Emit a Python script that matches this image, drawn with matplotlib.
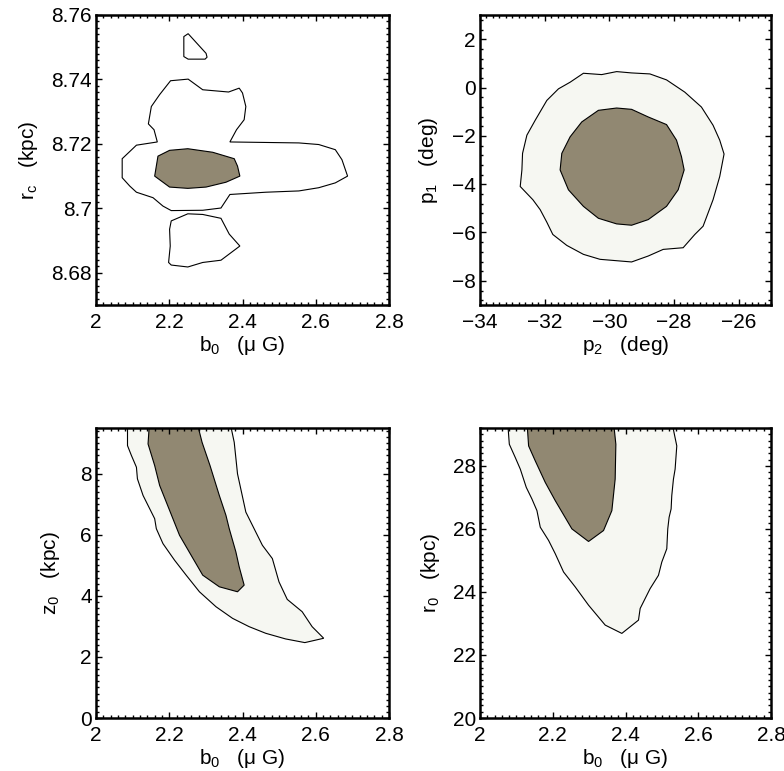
import matplotlib
matplotlib.use('Agg')
import matplotlib.pyplot as plt
from matplotlib.ticker import MultipleLocator

plt.rcParams['font.family'] = ['Liberation Sans', 'DejaVu Sans']
plt.rcParams['mathtext.fontset'] = 'custom'
plt.rcParams['mathtext.rm'] = 'Liberation Sans'
plt.rcParams['mathtext.it'] = 'Liberation Sans'

DARK = '#918872'
LIGHT = '#f6f7f2'

# ---- panel 1: b0 vs rc ----
rc_outer_b = [2.2516, 2.2914, 2.3620, 2.3910, 2.4000, 2.4091, 2.4045, 2.3837, 2.3656,
              2.5539, 2.6082, 2.6534, 2.6715, 2.6869, 2.6534, 2.6082, 2.5539, 2.4634,
              2.3656, 2.3412, 2.2914, 2.2054, 2.1828, 2.1557, 2.1104, 2.0923, 2.0715,
              2.0715, 2.1104, 2.1674, 2.1584, 2.1430, 2.1511, 2.1738, 2.2036]
rc_outer_r = [8.7401, 8.7368, 8.7361, 8.7373, 8.7358, 8.7316, 8.7275, 8.7244, 8.7206,
              8.7203, 8.7198, 8.7182, 8.7151, 8.7100, 8.7079, 8.7064, 8.7054, 8.7050,
              8.7043, 8.7001, 8.6994, 8.6993, 8.7007, 8.7033, 8.7050, 8.7069, 8.7095,
              8.7154, 8.7196, 8.7206, 8.7244, 8.7262, 8.7316, 8.7353, 8.7396]
rc_top_b = [2.2398, 2.2516, 2.3005, 2.3032, 2.2977, 2.2516, 2.2398]
rc_top_r = [8.7533, 8.7542, 8.7481, 8.7469, 8.7463, 8.7463, 8.7471]
rc_low_b = [2.2054, 2.2507, 2.2914, 2.3412, 2.3638, 2.3928, 2.3412, 2.2914, 2.2507,
            2.2054, 2.1982, 2.2027, 2.2009]
rc_low_r = [8.6961, 8.6983, 8.6981, 8.6969, 8.6920, 8.6883, 8.6839, 8.6832, 8.6818,
            8.6824, 8.6832, 8.6883, 8.6935]
rc_inner_b = [2.1692, 2.2009, 2.2507, 2.3186, 2.3774, 2.3864, 2.3928, 2.3548, 2.3005,
              2.2507, 2.2009, 2.1602]
rc_inner_r = [8.7162, 8.7180, 8.7185, 8.7174, 8.7154, 8.7131, 8.7100, 8.7081, 8.7066,
              8.7062, 8.7066, 8.7100]

# ---- panel 2: p2 vs p1 ----
p_outer_2 = [-30.802, -30.237, -29.774, -29.311, -28.746, -28.231, -27.666, -27.152,
             -26.792, -26.586, -26.452, -26.586, -26.792, -27.100, -27.357, -27.717,
             -28.334, -28.797, -29.311, -30.288, -30.802, -31.316, -31.748, -31.933,
             -32.139, -32.365, -32.756, -32.704, -32.684, -32.550, -32.293, -31.933,
             -31.573, -31.213]
p_outer_1 = [0.589, 0.534, 0.658, 0.603, 0.562, 0.315, -0.192, -0.808, -1.562, -2.178,
             -2.753, -3.685, -4.644, -5.740, -6.082, -6.630, -6.699, -6.973, -7.219,
             -7.110, -6.904, -6.534, -6.082, -5.575, -5.055, -4.644, -4.096, -3.411,
             -2.726, -1.973, -1.356, -0.534, -0.055, 0.219]
p_inner_2 = [-30.339, -29.774, -29.311, -28.797, -28.231, -27.923, -27.769, -27.686,
             -27.871, -28.231, -28.797, -29.311, -29.774, -30.339, -30.802, -31.265,
             -31.522, -31.470, -31.213, -30.853]
p_inner_1 = [-0.945, -0.849, -0.904, -1.219, -1.534, -2.178, -2.863, -3.411, -4.233,
             -4.918, -5.466, -5.699, -5.644, -5.411, -4.918, -4.233, -3.411, -2.726,
             -2.041, -1.425]

# ---- panel 3: b0 vs z0 ----
z_outer_b = [2.0860, 2.0860, 2.0968, 2.1104, 2.1131, 2.1285, 2.1602, 2.1647, 2.1828,
             2.2145, 2.2462, 2.2824, 2.3276, 2.3729, 2.4181, 2.4634, 2.5177, 2.5702,
             2.6217, 2.5901, 2.5629, 2.5222, 2.4996, 2.4815, 2.4543, 2.4317, 2.4091,
             2.3864, 2.3774, 2.3638]
z_outer_z = [9.8, 8.923, 8.596, 8.215, 7.835, 7.290, 6.529, 6.202, 5.713, 5.169, 4.679,
             4.135, 3.645, 3.264, 2.992, 2.775, 2.590, 2.470, 2.612, 2.992, 3.482, 3.885,
             4.461, 5.223, 5.658, 6.202, 6.746, 7.998, 9.032, 9.8]
z_inner_b = [2.1466, 2.1421, 2.1602, 2.1738, 2.2100, 2.2281, 2.2597, 2.2914, 2.3367,
             2.3864, 2.4045, 2.3910, 2.3819, 2.3638, 2.3548, 2.3367, 2.3113, 2.2896,
             2.2733]
z_inner_z = [9.8, 8.977, 8.270, 7.617, 6.529, 5.985, 5.332, 4.679, 4.298, 4.135, 4.353,
             4.951, 5.441, 6.202, 6.638, 7.290, 8.270, 9.032, 9.8]

# ---- panel 4: b0 vs r0 ----
r_outer_b = [2.0760, 2.0806, 2.0970, 2.1108, 2.1272, 2.1428, 2.1565, 2.1657, 2.1886,
             2.2069, 2.2297, 2.2618, 2.2984, 2.3442, 2.3899, 2.4357, 2.4403, 2.4677,
             2.4906, 2.4998, 2.5135, 2.5162, 2.5199, 2.5254, 2.5272, 2.5318, 2.5364,
             2.5410, 2.5272]
r_outer_r = [29.4, 28.684, 28.263, 27.895, 27.316, 26.947, 26.579, 26.053, 25.632,
             25.211, 24.632, 24.158, 23.579, 22.947, 22.684, 23.105, 23.474, 24.105,
             24.526, 24.947, 25.368, 26.000, 26.368, 26.632, 27.053, 27.579, 27.895,
             28.632, 29.4]
r_inner_b = [2.1291, 2.1336, 2.1519, 2.1794, 2.2069, 2.2526, 2.2984, 2.3396, 2.3625,
             2.3716, 2.3735, 2.3670]
r_inner_r = [29.4, 28.632, 28.158, 27.474, 26.895, 26.000, 25.600, 25.947, 26.579,
             27.579, 28.684, 29.4]

b_ticks = [2, 2.2, 2.4, 2.6, 2.8]
b_ticklabels = ['2', '2.2', '2.4', '2.6', '2.8']
b_label = 'b$_{0}$   (\u03bc G)'

FS = 15

fig = plt.figure(figsize=(7.84, 7.71), dpi=100)
W, H = 784.0, 771.0


def make_ax(l, t, r, b):
    return fig.add_axes([l / W, 1 - b / H, (r - l) / W, (b - t) / H])


def style(ax, xmaj, xmin, ymaj, ymin):
    ax.xaxis.set_major_locator(MultipleLocator(xmaj))
    ax.xaxis.set_minor_locator(MultipleLocator(xmin))
    ax.yaxis.set_major_locator(MultipleLocator(ymaj))
    ax.yaxis.set_minor_locator(MultipleLocator(ymin))
    ax.tick_params(which='both', direction='in', top=True, right=True,
                   labelsize=FS, width=1.0)
    ax.tick_params(axis='x', pad=6)
    ax.tick_params(axis='y', pad=3)
    ax.tick_params(which='major', length=4.5)
    ax.tick_params(which='minor', length=2.2)
    for s in ax.spines.values():
        s.set_linewidth(1.8)


def labels(ax, xl, yl, ypos):
    ax.set_xlabel(xl, fontsize=FS, va='top')
    ax.set_ylabel(yl, fontsize=FS)
    ax.xaxis.set_label_coords(0.5, -0.1)
    ax.yaxis.set_label_coords(ypos, 0.5)


ax1 = make_ax(96, 15, 389, 305)
ax1.fill(rc_outer_b, rc_outer_r, facecolor='white', edgecolor='black', lw=0.8)
ax1.fill(rc_top_b, rc_top_r, facecolor='white', edgecolor='black', lw=0.8)
ax1.fill(rc_low_b, rc_low_r, facecolor='white', edgecolor='black', lw=0.8)
ax1.fill(rc_inner_b, rc_inner_r, facecolor=DARK, edgecolor='black', lw=0.8)
ax1.set_xlim(2, 2.8)
ax1.set_ylim(8.67, 8.76)
style(ax1, 0.2, 0.02, 0.02, 0.002)
ax1.set_xticks(b_ticks, b_ticklabels)
ax1.set_yticks([8.68, 8.70, 8.72, 8.74, 8.76], ['8.68', '8.7', '8.72', '8.74', '8.76'])
labels(ax1, b_label, 'r$_{\\rm c}$   (kpc)', -0.191)

ax2 = make_ax(480, 15, 771, 305)
ax2.fill(p_outer_2, p_outer_1, facecolor=LIGHT, edgecolor='black', lw=0.8)
ax2.fill(p_inner_2, p_inner_1, facecolor=DARK, edgecolor='black', lw=0.8)
ax2.set_xlim(-34, -25)
ax2.set_ylim(-9, 3)
style(ax2, 2, 0.2, 2, 0.4)
ax2.set_xticks([-34, -32, -30, -28, -26],
               ['\u221234', '\u221232', '\u221230', '\u221228', '\u221226'])
ax2.set_yticks([-8, -6, -4, -2, 0, 2],
               ['\u22128', '\u22126', '\u22124', '\u22122', '0', '2'])
labels(ax2, 'p$_{2}$   (deg)', 'p$_{1}$   (deg)', -0.137)

ax3 = make_ax(96, 428, 389, 718)
ax3.fill(z_outer_b, z_outer_z, facecolor=LIGHT, edgecolor='black', lw=0.8)
ax3.fill(z_inner_b, z_inner_z, facecolor=DARK, edgecolor='black', lw=0.8)
ax3.set_xlim(2, 2.8)
ax3.set_ylim(0, 9.5)
style(ax3, 0.2, 0.02, 2, 0.2)
ax3.set_xticks(b_ticks, b_ticklabels)
labels(ax3, b_label, 'z$_{0}$   (kpc)', -0.116)

ax4 = make_ax(480, 428, 771, 718)
ax4.fill(r_outer_b, r_outer_r, facecolor=LIGHT, edgecolor='black', lw=0.8)
ax4.fill(r_inner_b, r_inner_r, facecolor=DARK, edgecolor='black', lw=0.8)
ax4.set_xlim(2, 2.8)
ax4.set_ylim(20, 29.2)
style(ax4, 0.2, 0.02, 2, 0.2)
ax4.set_xticks(b_ticks, b_ticklabels)
labels(ax4, b_label, 'r$_{0}$   (kpc)', -0.131)

fig.savefig('out.png', dpi=100)
